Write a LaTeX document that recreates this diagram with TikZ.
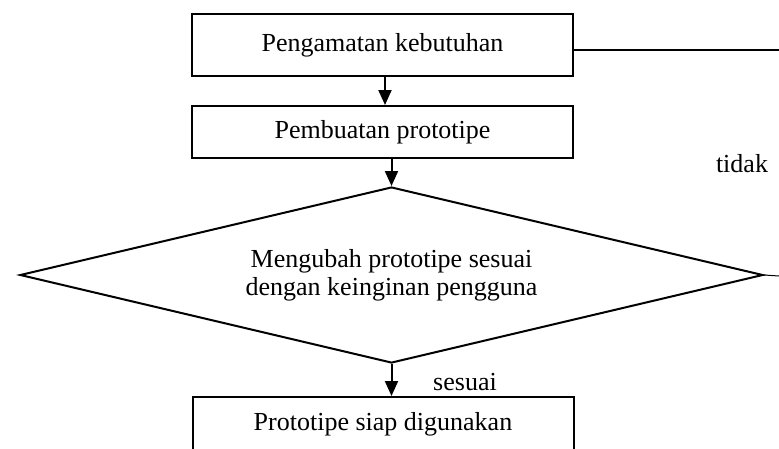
\documentclass[tikz,border=0pt]{standalone}
\usepackage{fontspec}
\setmainfont{Liberation Serif}
\usetikzlibrary{shapes.geometric, arrows.meta}
\begin{document}
\begin{tikzpicture}[x=1pt, y=-1pt, font=\fontsize{26}{28}\selectfont,
          >={Triangle[length=15pt, width=13pt]},
          box/.style={draw=black, line width=2pt, minimum width=381pt, inner sep=0pt},
          cond/.style={diamond, aspect=4.22, draw=black, line width=2pt, minimum width=743pt,
            minimum height=176pt, inner sep=0pt, align=center},
          flow/.style={->, line width=2pt}]
        \useasboundingbox (0,0) rectangle (779,448);
        \coordinate (loopa) at (779,50);
        \coordinate (loopb) at (779,276);
        \node[box, minimum height=62pt] (obs) at (382.5,45) {Pengamatan kebutuhan};
        \node[box, minimum height=52pt] (proto) at (382.5,132) {Pembuatan prototipe};
        \node[cond] (check) at (391.5,275) {Mengubah prototipe sesuai\\dengan keinginan pengguna};
        \node[box, minimum height=54pt] (ready) at (383,424) {Prototipe siap digunakan};
        \node (no) at (742,164) {tidak};
        \node (yes) at (465,382) {sesuai};
        \draw[flow] (obs.south -| 385,0) -- (proto.north -| 385,0);
        \draw[flow] (proto.south -| check.north) -- (check.north);
        \draw[flow] (check.south) -- (check.south |- ready.north);
        \draw[line width=2pt] (obs.east |- loopa) -- (loopa);
        \draw[line width=1pt] (check.east) -- (loopb);
      \end{tikzpicture}
\end{document}
